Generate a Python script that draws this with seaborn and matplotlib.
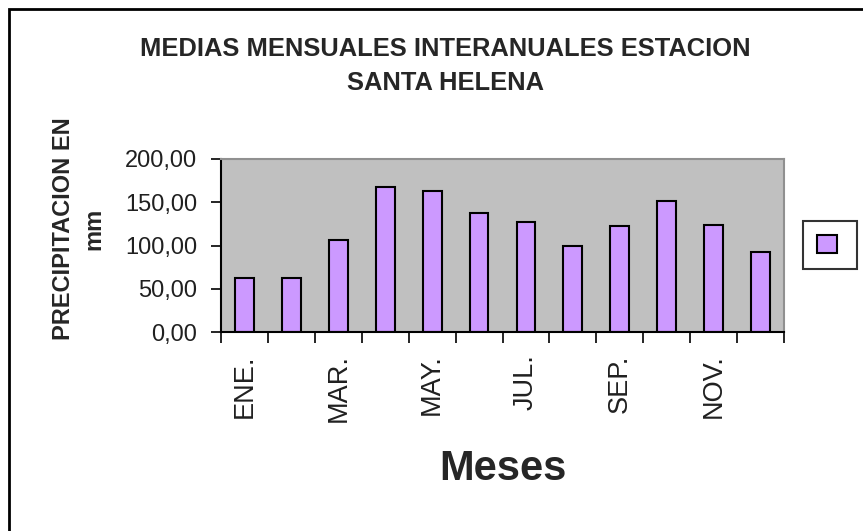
import matplotlib
matplotlib.use("Agg")
import matplotlib.pyplot as plt
import seaborn as sns
import pandas as pd
from matplotlib.patches import Patch, Rectangle
from matplotlib.ticker import FixedLocator, FuncFormatter

months = ["ENE.", "FEB.", "MAR.", "ABR.", "MAY.", "JUN.", "JUL.", "AGO.", "SEP.", "OCT.", "NOV.", "DIC."]
precip = [62, 62, 106, 168, 163, 138, 127, 99, 122, 152, 124, 92]
yticks = [0, 50, 100, 150, 200]
title = "MEDIAS MENSUALES INTERANUALES ESTACION\nSANTA HELENA"
ylabel = "PRECIPITACION EN\nmm"
xlabel = "Meses"

sns.set_theme(style="white")
plt.rcParams["font.family"] = ["Liberation Sans", "DejaVu Sans"]

W, H = 863, 531
fig = plt.figure(figsize=(W / 100, H / 100), dpi=100)
fig.patch.set_facecolor("white")

def fx(px):
    return px / W

def fy(py):
    return 1 - py / H

ax = fig.add_axes([fx(221), fy(332), fx(784) - fx(221), fy(159) - fy(332)])
ax.set_facecolor("#C0C0C0")

df = pd.DataFrame({"mes": months, "pp": precip})
bar_color = "#CC99FF"
sns.barplot(data=df, x="mes", y="pp", color=bar_color, saturation=1, width=0.4,
            edgecolor="black", linewidth=1.5, ax=ax)

ax.set_xlim(-0.5, len(months) - 0.5)
ax.set_ylim(0, 200)
ax.set_yticks(yticks)
ax.yaxis.set_major_formatter(FuncFormatter(lambda v, p: f"{v:.2f}".replace(".", ",")))
ax.tick_params(axis="y", direction="out", length=7, width=1.2, color="black",
               labelsize=17, pad=10, left=True, labelcolor="#202020")

# x: labels at every other category, tick marks at boundaries
ax.set_xticks(range(len(months)))
ax.set_xticklabels([m if i % 2 == 0 else "" for i, m in enumerate(months)],
                   rotation=90, va="top", ha="center")
ax.tick_params(axis="x", which="major", length=0, labelsize=19.5, pad=16, labelcolor="#202020")
ax.xaxis.set_minor_locator(FixedLocator([i - 0.5 for i in range(len(months) + 1)]))
ax.tick_params(axis="x", which="minor", direction="out", length=8, width=1.2,
               color="black", bottom=True)
ax.set_xlabel("")
ax.set_ylabel("")

for s in ["left", "bottom"]:
    ax.spines[s].set_color("black")
    ax.spines[s].set_linewidth(1.5)
for s in ["top", "right"]:
    ax.spines[s].set_color("#909090")
    ax.spines[s].set_linewidth(1.5)

# Texts
fig.text(fx(445), fy(66), title, ha="center", va="center", fontsize=18.4,
         fontweight="bold", linespacing=1.5)
fig.text(fx(79), fy(229), ylabel, ha="center", va="center", rotation=90,
         fontsize=17, fontweight="bold", multialignment="center", linespacing=1.4)
fig.text(fx(503), fy(469), xlabel, ha="center", va="center", fontsize=30,
         fontweight="bold")

# Legend
leg = ax.legend(handles=[Patch(facecolor=bar_color, edgecolor="black", linewidth=1.5)],
                labels=[""], loc="upper left",
                bbox_to_anchor=(fx(803), fy(221)), bbox_transform=fig.transFigure,
                borderaxespad=0, fontsize=14.4, handlelength=1.0, handleheight=1.0,
                handletextpad=0.3, borderpad=0.7, fancybox=False, frameon=True)
leg.get_frame().set_edgecolor("black")
leg.get_frame().set_linewidth(1.5)
leg.get_frame().set_facecolor("white")

# Chart border
fig.add_artist(Rectangle((fx(9), -0.1), 1.2, fy(9) + 0.1, transform=fig.transFigure,
                         fill=False, edgecolor="black", linewidth=2))

fig.savefig("out.png", dpi=100)
